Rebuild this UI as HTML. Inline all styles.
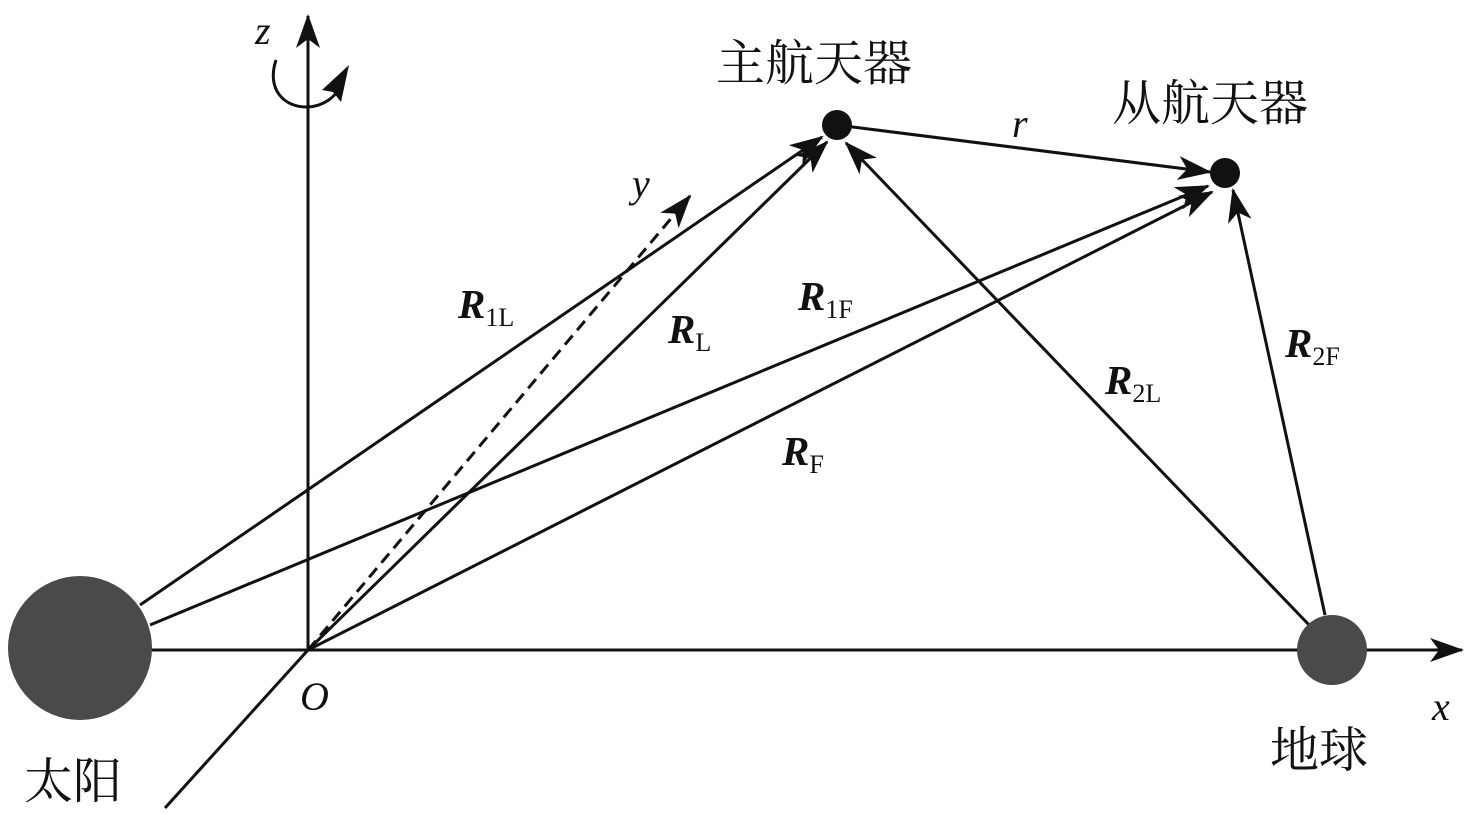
<!DOCTYPE html>
<html><head><meta charset="utf-8"><style>
html,body{margin:0;padding:0;background:#fff;}
svg{display:block;}
.cj{font-family:"Liberation Serif","Noto Serif CJK SC",serif;font-size:49px;fill:#111;}
.it{font-family:"Liberation Serif",serif;font-style:italic;font-size:40px;fill:#111;}
.R{font-family:"Liberation Serif",serif;font-style:italic;font-weight:bold;font-size:41px;fill:#111;}
.sub{font-family:"Liberation Serif",serif;font-size:26px;fill:#111;font-style:normal;font-weight:normal;}
</style></head><body>
<svg width="1476" height="814" viewBox="0 0 1476 814" xmlns="http://www.w3.org/2000/svg">
<defs>
<marker id="a" markerUnits="userSpaceOnUse" markerWidth="34" markerHeight="24" viewBox="0 0 34 24" refX="32" refY="12" orient="auto">
<path d="M0,0 L34,12 L0,24 L9,12 z" fill="#111"/>
</marker>
</defs>
<g stroke="#111" stroke-width="3" fill="none">
<line x1="150" y1="650" x2="1462" y2="650" marker-end="url(#a)"/>
<line x1="308" y1="650" x2="308" y2="16" marker-end="url(#a)"/>
<line x1="308" y1="650" x2="165" y2="808"/>
<line x1="308" y1="650" x2="690" y2="196" stroke-dasharray="12,7" marker-end="url(#a)"/>
<path d="M276,60 C266,90 285,108 308,107 C325,106 335,96 340,88" stroke-width="3"/>
<line x1="140" y1="605" x2="822" y2="137" marker-end="url(#a)"/>
<line x1="308" y1="650" x2="827" y2="142" marker-end="url(#a)"/>
<line x1="150" y1="625" x2="1208" y2="186" marker-end="url(#a)"/>
<line x1="308" y1="650" x2="1212" y2="192" marker-end="url(#a)"/>
<line x1="1312" y1="628" x2="846" y2="143" marker-end="url(#a)"/>
<line x1="1325" y1="615" x2="1233" y2="190" marker-end="url(#a)"/>
<line x1="837" y1="125" x2="1210" y2="172" marker-end="url(#a)"/>
</g>
<path d="M349,65 L341,102 L333,92 L322,90 z" fill="#111"/>
<circle cx="80" cy="648" r="72" fill="#4a4a4a"/>
<circle cx="1332" cy="650" r="35" fill="#4a4a4a"/>
<circle cx="837" cy="125" r="15" fill="#111"/>
<circle cx="1225" cy="173" r="15" fill="#111"/>
<text class="cj" x="716" y="80">主航天器</text>
<text class="cj" x="1112" y="120">从航天器</text>
<text class="cj" x="24" y="798">太阳</text>
<text class="cj" x="1270" y="767">地球</text>
<text class="it" x="255" y="44">z</text>
<text class="it" x="632" y="197">y</text>
<text class="it" x="1012" y="137">r</text>
<text class="it" x="300" y="710">O</text>
<text class="it" x="1432" y="720">x</text>
<text class="R" x="458" y="318">R<tspan class="sub" dy="8">1L</tspan></text>
<text class="R" x="668" y="343">R<tspan class="sub" dy="8">L</tspan></text>
<text class="R" x="798" y="310">R<tspan class="sub" dy="8">1F</tspan></text>
<text class="R" x="782" y="465">R<tspan class="sub" dy="8">F</tspan></text>
<text class="R" x="1105" y="394">R<tspan class="sub" dy="8">2L</tspan></text>
<text class="R" x="1285" y="357">R<tspan class="sub" dy="8">2F</tspan></text>
</svg>
</body></html>
